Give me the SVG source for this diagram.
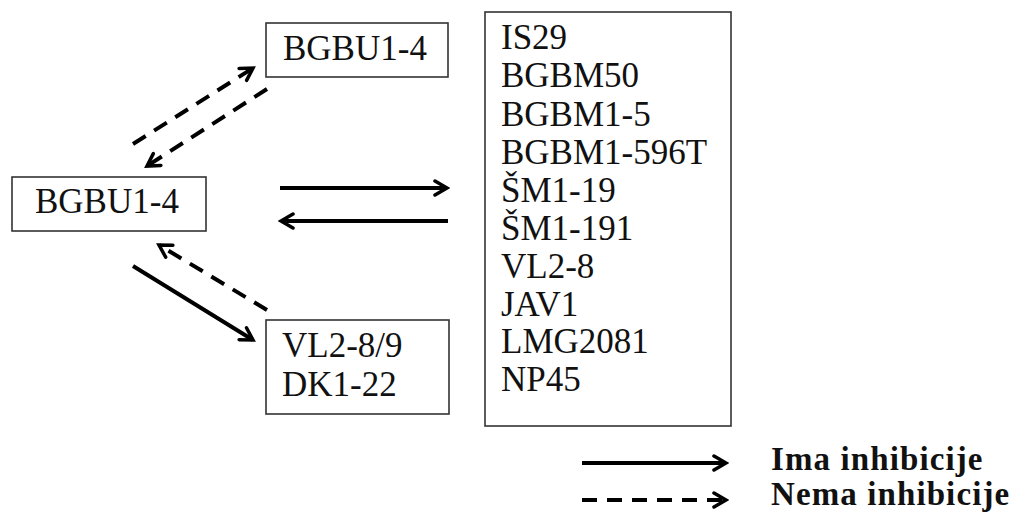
<svg xmlns="http://www.w3.org/2000/svg" width="1013" height="515" viewBox="0 0 1013 515">
<style>
.box{fill:#fff;stroke:#333;stroke-width:1.6}
.t{font-family:"Liberation Serif","Times New Roman",serif;font-size:35px;fill:#111}
.lg{font-family:"Liberation Serif","Times New Roman",serif;font-size:33px;font-weight:bold;fill:#111;letter-spacing:1.1px}
.s{stroke:#000;stroke-width:4;fill:none}
.d{stroke:#000;stroke-width:4;fill:none;stroke-dasharray:15 10}
</style>
<defs>
<marker id="ah" viewBox="0 0 18 18" refX="15" refY="9" markerWidth="18" markerHeight="18" markerUnits="userSpaceOnUse" orient="auto">
<path d="M3,2 L15,9 L3,16" fill="none" stroke="#000" stroke-width="3.5" stroke-linecap="round" stroke-linejoin="miter"/>
</marker>
</defs>
<rect width="1013" height="515" fill="#fff"/>
<g id="node-top">
<rect class="box" x="266" y="23" width="182" height="54"/>
<text class="t" x="283" y="60">BGBU1-4</text>
</g>
<g id="node-left">
<rect class="box" x="12" y="177" width="194" height="54"/>
<text class="t" x="35" y="213">BGBU1-4</text>
</g>
<g id="node-bottom">
<rect class="box" x="266" y="320" width="183" height="94"/>
<text class="t" x="282" y="357">VL2-8/9</text>
<text class="t" x="282" y="396">DK1-22</text>
</g>
<g id="node-right">
<rect class="box" x="485" y="12" width="246" height="414"/>
<text class="t" x="501" y="49">IS29</text>
<text class="t" x="501" y="87">BGBM50</text>
<text class="t" x="501" y="126">BGBM1-5</text>
<text class="t" x="501" y="164">BGBM1-596T</text>
<text class="t" x="501" y="202">ŠM1-19</text>
<text class="t" x="501" y="240">ŠM1-191</text>
<text class="t" x="501" y="278">VL2-8</text>
<text class="t" x="501" y="316">JAV1</text>
<text class="t" x="501" y="353">LMG2081</text>
<text class="t" x="501" y="391">NP45</text>
</g>
<g id="connectors">
<line class="d" x1="133" y1="144" x2="253" y2="68" marker-end="url(#ah)"/>
<line class="d" x1="267" y1="89" x2="147" y2="166" marker-end="url(#ah)"/>
<line class="s" x1="280" y1="188" x2="447" y2="188" marker-end="url(#ah)"/>
<line class="s" x1="448" y1="221" x2="281" y2="221" marker-end="url(#ah)"/>
<line class="s" x1="133" y1="266" x2="253" y2="340" marker-end="url(#ah)"/>
<line class="d" x1="267" y1="310" x2="159" y2="245" marker-end="url(#ah)"/>
</g>
<g id="legend">
<line class="s" x1="582" y1="463" x2="726" y2="463" marker-end="url(#ah)"/>
<line class="d" x1="582" y1="500" x2="726" y2="500" marker-end="url(#ah)"/>
<text class="lg" x="771" y="470">Ima inhibicije</text>
<text class="lg" x="771" y="505">Nema inhibicije</text>
</g>
</svg>
